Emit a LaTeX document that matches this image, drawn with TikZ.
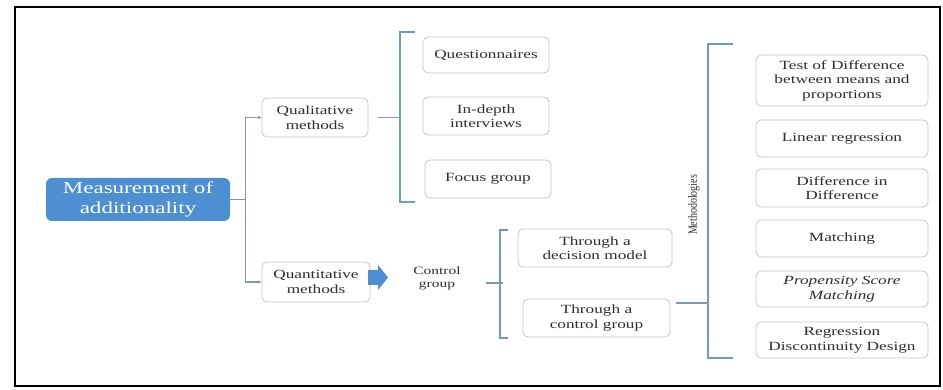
\documentclass[tikz,border=0pt]{standalone}
\usepackage{fontspec}
\newfontfamily\boxfont{Liberation Serif}[FakeStretch=1.38]
\newfontfamily\sidefont{Liberation Serif}[FakeStretch=0.8]
\usetikzlibrary{arrows.meta}
\definecolor{headblue}{HTML}{4E8FD1}
\definecolor{brace}{HTML}{6E9CC4}
\definecolor{wire}{HTML}{7E98AE}
\definecolor{edge}{HTML}{C6C6C6}
\definecolor{ink}{HTML}{2E2E2E}

\begin{document}
\begin{tikzpicture}[x=1pt,y=-1pt,>={Stealth[length=4pt,width=3.5pt]},
  box/.style={draw=edge,line width=0.8pt,rounded corners=5pt,fill=white,align=center,
              inner sep=0pt,text=ink,font=\boxfont\fontsize{12.5}{14.5}\selectfont},
  meth/.style={box,minimum width=172pt},
  wirel/.style={draw=wire,line width=1.1pt},
  bracel/.style={draw=brace,line width=1.5pt}]
\useasboundingbox (0,0) rectangle (943,390);
\draw[line width=1.3pt] (15,7) rectangle (940,386);
\node[box,draw=none,fill=headblue,text=white,rounded corners=6pt,minimum width=184pt,minimum height=43pt,
  font=\boxfont\fontsize{16.7}{20}\selectfont] (head) at (138,199.5) {Measurement of\\ additionality};
\node[box,minimum width=106pt,minimum height=39pt] (qual) at (315,117.5) {Qualitative\\ methods};
\node[box,minimum width=108pt,minimum height=40pt] (quant) at (316,282) {Quantitative\\ methods};
\node[box,minimum width=126pt,minimum height=36pt] (quest) at (486,55) {Questionnaires};
\node[box,minimum width=126pt,minimum height=38pt] (indepth) at (486,116) {In-depth\\ interviews};
\node[box,minimum width=126pt,minimum height=38pt] (focus) at (488,179) {Focus group};
\node[align=center,text=ink,font=\boxfont\fontsize{11.2}{13}\selectfont] (cg) at (437,278) {Control\\ group};
\node[box,minimum width=154pt,minimum height=38pt] (decision) at (595,248) {Through a\\ decision model};
\node[box,minimum width=147pt,minimum height=38pt] (ctrl) at (596.5,318) {Through a\\ control group};
\node[rotate=90,text=ink,font=\sidefont\fontsize{12.5}{14}\selectfont] (methods) at (694,205) {Methodologies};
\node[meth,minimum height=51pt] (test) at (842,80.5) {Test of Difference\\ between means and\\ proportions};
\node[meth,minimum height=37pt] (linreg) at (842,138.5) {Linear regression};
\node[meth,minimum height=38pt] (did) at (842,188) {Difference in\\ Difference};
\node[meth,minimum height=37pt] (match) at (842,238.5) {Matching};
\node[meth,minimum height=36pt] (psm) at (842,289) {\itshape Propensity Score\\ \itshape Matching};
\node[meth,minimum height=36pt] (rdd) at (842,340) {Regression\\ Discontinuity Design};
\coordinate (b1t) at (415,32);
\coordinate (b1b) at (415,202);
\coordinate (b2t) at (508,230);
\coordinate (b2b) at (508,338);
\coordinate (b3t) at (733,44);
\coordinate (b3b) at (733,358);
\fill[headblue] (368,270) -- (378,270) -- (378,265) -- (388,277.5) -- (378,290) -- (378,285)
  -- (368,285) -- cycle;
\draw[wirel,->] (head.east) -- ++(15,0) |- (qual.west);
\draw[wirel,->] (head.east) -- ++(15,0) |- (quant.west);
\draw[bracel] (b1t) -- ++(-15,0) -- ([xshift=-15pt]b1b) -- (b1b);
\draw[bracel] (b2t) -- ++(-8,0) -- ([xshift=-8pt]b2b) -- (b2b);
\draw[bracel] (b3t) -- ++(-25,0) -- ([xshift=-25pt]b3b) -- (b3b);
\draw[wirel] ([xshift=10pt]qual.east) -- ++(22,0);
\draw[wirel] ([xshift=22pt,yshift=-5pt]cg.east) -- ++(17,0);
\draw[wirel] ([xshift=6pt,yshift=15pt]ctrl.east) -- ++(32,0);
\end{tikzpicture}
\end{document}
